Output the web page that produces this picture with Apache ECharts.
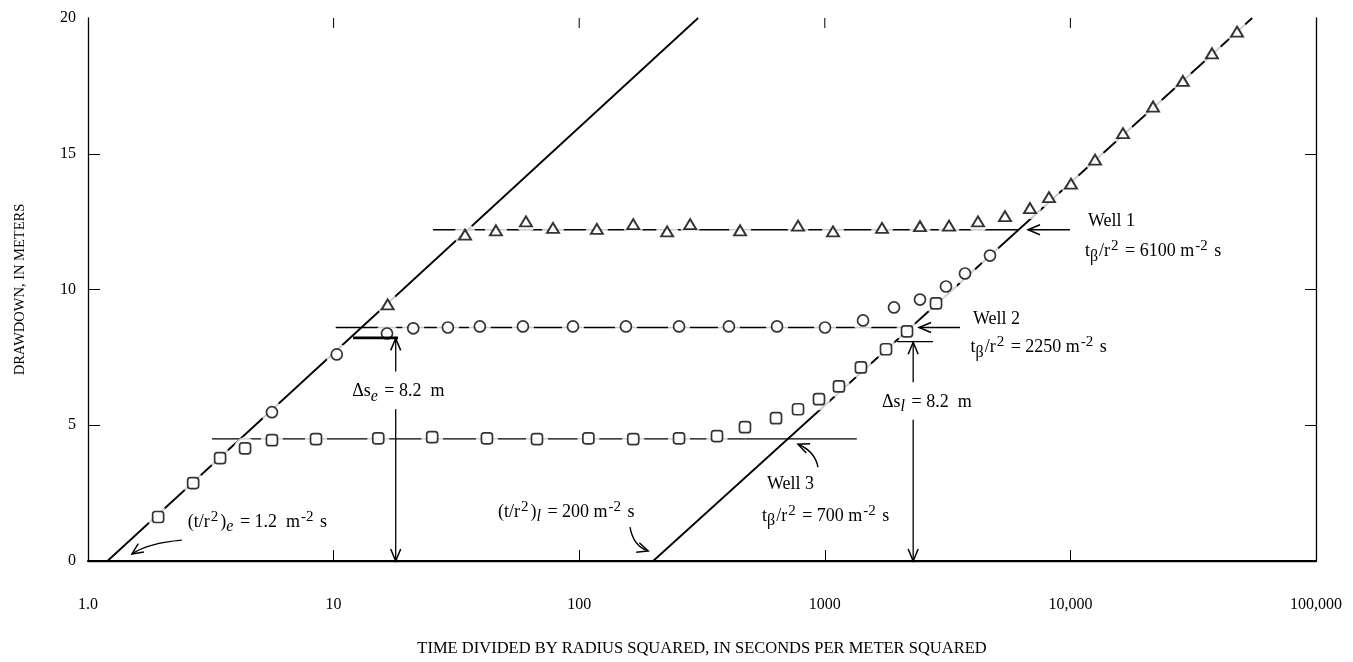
<!DOCTYPE html>
<html><head><meta charset="utf-8">
<script src="https://cdn.jsdelivr.net/npm/echarts@6/dist/echarts.min.js"></script>
<style>html,body{margin:0;padding:0;background:#fff}#c{width:1353px;height:662px}</style>
</head><body><div id="c"></div>
<script>
// ---------- data ----------
const xTickLabels = ['1.0', '10', '100', '1000', '10,000', '100,000'];
const xTitle = 'TIME DIVIDED BY RADIUS SQUARED, IN SECONDS PER METER SQUARED';
const yTitle = 'DRAWDOWN, IN METERS';

// Well 1 (triangles): [t/r^2, drawdown]
const well1 = [[16.6,9.45],[34.3,12.02],[45.8,12.18],[60.7,12.51],[78.2,12.27],[118,12.23],[166,12.41],[228,12.14],[283,12.41],[452,12.18],[778,12.35],[1080,12.14],[1710,12.27],[2441,12.33],[3204,12.35],[4205,12.51],[5415,12.70],[6846,13.0],[8181,13.4],[10056,13.9],[12600,14.78],[16370,15.76],[21700,16.74],[28700,17.68],[37700,18.70],[47700,19.5]];
// Well 2 (circles)
const well2 = [[5.61,5.48],[10.3,7.61],[16.5,8.38],[21.1,8.57],[29.2,8.60],[39.4,8.64],[59.0,8.64],[94.3,8.64],[155,8.64],[255,8.64],[407,8.64],[639,8.64],[1002,8.60],[1431,8.86],[1913,9.34],[2441,9.63],[3115,10.11],[3722,10.59],[4706,11.25]];
// Well 3 (squares)
const well3 = [[1.93,1.62],[2.68,2.87],[3.45,3.79],[4.36,4.15],[5.61,4.45],[8.48,4.49],[15.2,4.52],[25.2,4.56],[42.1,4.52],[67.3,4.49],[109,4.52],[166,4.49],[255,4.52],[364,4.60],[473,4.93],[633,5.26],[778,5.59],[947,5.96],[1142,6.43],[1403,7.13],[1775,7.80],[2162,8.46],[2837,9.49]];

// straight-line fits and plateau levels
const earlyLine = [[1.2, 0], [305, 20]];
const lateLine = [[200, 0], [55000, 20]];
const well1Plateau = [[25.4, 12.2], [6100, 12.2]];
const well2Plateau = [[10.2, 8.6], [2250, 8.6]];
const well3Plateau = [[3.2, 4.5], [1350, 4.5]];
const xTickValues = [10, 100, 1000, 10000];
const yTickValues = [5, 10, 15];

// ---------- chart ----------
const F = 'Liberation Serif';
const chart = echarts.init(document.getElementById('c'), null, {renderer: 'canvas'});

function refSeries(data, w) {
  return {type: 'line', data: data, xAxisIndex: 0, yAxisIndex: 0, symbol: 'none', showSymbol: false,
    lineStyle: {color: '#000', width: w}, z: 2, silent: true, animation: false};
}
function maskSeries(data) {
  return {type: 'scatter', data: data, symbol: 'circle', symbolSize: 22,
    itemStyle: {color: '#fff', borderWidth: 0}, z: 3, silent: true, animation: false};
}
function markSeries(name, data, symbol, size, bw) {
  return {type: 'scatter', name: name, data: data, symbol: symbol, symbolSize: size,
    itemStyle: {color: '#fff', borderColor: '#000', borderWidth: bw}, z: 4, animation: false};
}

const axisLineStyle = {color: '#000', width: 1.3};
const option = {
  backgroundColor: '#fff',
  animation: false,
  grid: {left: 88, right: 37, top: 18, bottom: 100, containLabel: false},
  xAxis: [
    {type: 'log', logBase: 10, min: 1, max: 100000, position: 'bottom',
     name: xTitle, nameLocation: 'middle', nameGap: 79,
     nameTextStyle: {fontFamily: F, fontSize: 16.5, color: '#000'},
     axisLine: {lineStyle: {color: '#000', width: 1.8}},
     axisTick: {inside: true, length: 11, customValues: xTickValues, lineStyle: {color: '#000', width: 1}},
     minorTick: {show: false}, splitLine: {show: false},
     axisLabel: {margin: 36, fontFamily: F, fontSize: 16, color: '#000',
       formatter: v => xTickLabels[Math.round(Math.log10(v))]}},
    {type: 'log', logBase: 10, min: 1, max: 100000, position: 'top',
     axisLine: {lineStyle: axisLineStyle},
     axisTick: {show: false},
     axisLabel: {show: false}, splitLine: {show: false}}
  ],
  yAxis: [
    {type: 'value', min: 0, max: 20, interval: 5, position: 'left',
     name: yTitle, nameLocation: 'middle', nameGap: 60, nameRotate: 90,
     nameTextStyle: {fontFamily: F, fontSize: 14.5, color: '#000'},
     axisLine: {show: true, lineStyle: axisLineStyle},
     axisTick: {show: true, inside: true, length: 12, customValues: yTickValues, lineStyle: {color: '#000', width: 1}},
     splitLine: {show: false},
     axisLabel: {margin: 12, fontFamily: F, fontSize: 16, color: '#000'}},
    {type: 'value', min: 0, max: 20, interval: 5, position: 'right',
     axisLine: {show: true, lineStyle: axisLineStyle},
     axisTick: {show: true, inside: true, length: 11, customValues: yTickValues, lineStyle: {color: '#000', width: 1}},
     splitLine: {show: false}, axisLabel: {show: false}}
  ],
  series: [
    refSeries(earlyLine, 1.8),
    refSeries(lateLine, 1.8),
    refSeries(well1Plateau, 1.4),
    refSeries(well2Plateau, 1.4),
    refSeries(well3Plateau, 1.4),
    maskSeries(well1), maskSeries(well2), maskSeries(well3),
    markSeries('Well 1', well1, 'triangle', [12, 10], 1.9),
    markSeries('Well 2', well2, 'circle', 11, 1.7),
    markSeries('Well 3', well3, 'roundRect', 11, 1.7)
  ]
};
chart.setOption(option);

// ---------- annotations (anchored in data coordinates) ----------
const P = (x, y) => chart.convertToPixel({xAxisIndex: 0, yAxisIndex: 0}, [x, y]);
const rich = {
  n: {fontSize: 18, fontFamily: F, fill: '#000', lineHeight: 26},
  sup: {fontSize: 15, fontFamily: F, fill: '#000', verticalAlign: 'top', padding: [0, 2, 0, 1]},
  sub: {fontSize: 16, fontFamily: F, fill: '#000', fontStyle: 'italic', verticalAlign: 'bottom', padding: [0, 2, 0, 0]},
  subn: {fontSize: 16, fontFamily: F, fill: '#000', verticalAlign: 'bottom', padding: [0, 1, 0, 0]}
};
function txt(x, y, text) {
  const p = P(x, y);
  return {type: 'text', x: p[0], y: p[1], z: 10,
    style: {text: text, rich: rich, fontSize: 18, fontFamily: F, fill: '#000', align: 'left', verticalAlign: 'middle'}};
}
function seg(a, b, w) {
  const p = P(a[0], a[1]), q = P(b[0], b[1]);
  return {type: 'line', z: 10, shape: {x1: p[0], y1: p[1], x2: q[0], y2: q[1]},
    style: {stroke: '#000', lineWidth: w || 1.3}};
}
function headPx(tip, from, len, hw) {
  const dx = tip[0] - from[0], dy = tip[1] - from[1];
  const L = Math.hypot(dx, dy) || 1, ux = dx / L, uy = dy / L;
  const bx = tip[0] - ux * len, by = tip[1] - uy * len;
  return {type: 'polyline', z: 10,
    shape: {points: [[bx - uy * hw, by + ux * hw], [tip[0], tip[1]], [bx + uy * hw, by - ux * hw]]},
    style: {stroke: '#000', lineWidth: 1.5, fill: null}};
}
function arrow(a, b) { // straight arrow from a to tip b
  return [seg(a, b), headPx(P(b[0], b[1]), P(a[0], a[1]), 12, 5)];
}
function curvedArrow(a, c, b) {
  const p = P(a[0], a[1]), k = P(c[0], c[1]), q = P(b[0], b[1]);
  return [{type: 'bezierCurve', z: 10, shape: {x1: p[0], y1: p[1], cpx1: k[0], cpy1: k[1], x2: q[0], y2: q[1]},
      style: {stroke: '#000', lineWidth: 1.4, fill: null}},
    headPx(q, k, 11, 5)];
}

const g = [];
// top-frame inward ticks at the decades
xTickValues.forEach(v => {
  const p = P(v, 20);
  g.push({type: 'line', z: 10, shape: {x1: p[0], y1: p[1], x2: p[0], y2: p[1] + 10}, style: {stroke: '#000', lineWidth: 1}});
});
g.push(txt(2.55, 1.43, '{n|(t/r}{sup|2}{n|)}{sub|e}{n| = 1.2  m}{sup|-2}{n| s}'));
g.push(txt(11.9, 6.25, '{n|Δs}{sub|e}{n| = 8.2  m}'));
g.push(txt(46.7, 1.80, '{n|(t/r}{sup|2}{n|)}{sub|l}{n| = 200 m}{sup|-2}{n| s}'));
g.push(txt(582, 2.83, '{n|Well 3}'));
g.push(txt(555, 1.65, '{n|t}{subn|β}{n|/r}{sup|2}{n| = 700 m}{sup|-2}{n| s}'));
g.push(txt(1710, 5.85, '{n|Δs}{sub|l}{n| = 8.2  m}'));
g.push(txt(4010, 8.90, '{n|Well 2}'));
g.push(txt(3920, 7.87, '{n|t}{subn|β}{n|/r}{sup|2}{n| = 2250 m}{sup|-2}{n| s}'));
g.push(txt(11800, 12.5, '{n|Well 1}'));
g.push(txt(11460, 11.4, '{n|t}{subn|β}{n|/r}{sup|2}{n| = 6100 m}{sup|-2}{n| s}'));

// curved pointer arrows
g.push(...curvedArrow([2.41, 0.77], [1.756, 0.66], [1.51, 0.26]));
g.push(...curvedArrow([161, 1.25], [166, 0.55], [191, 0.37]));
g.push(...curvedArrow([938, 3.46], [912, 4.04], [778, 4.30]));
// straight pointer arrows
g.push(...arrow([3550, 8.6], [2420, 8.6]));
g.push(...arrow([9960, 12.2], [6720, 12.2]));
// delta-s early
g.push(seg([12, 8.22], [18.3, 8.22], 2.6));
g.push(...arrow([17.9, 6.98], [17.9, 8.2]));
g.push(...arrow([17.9, 5.59], [17.9, 0]));
// delta-s late
g.push(seg([1968, 8.08], [2757, 8.08], 1.3));
g.push(...arrow([2290, 6.58], [2290, 8.06]));
g.push(...arrow([2290, 5.2], [2290, 0]));

chart.setOption({graphic: g});
</script>
</body></html>
